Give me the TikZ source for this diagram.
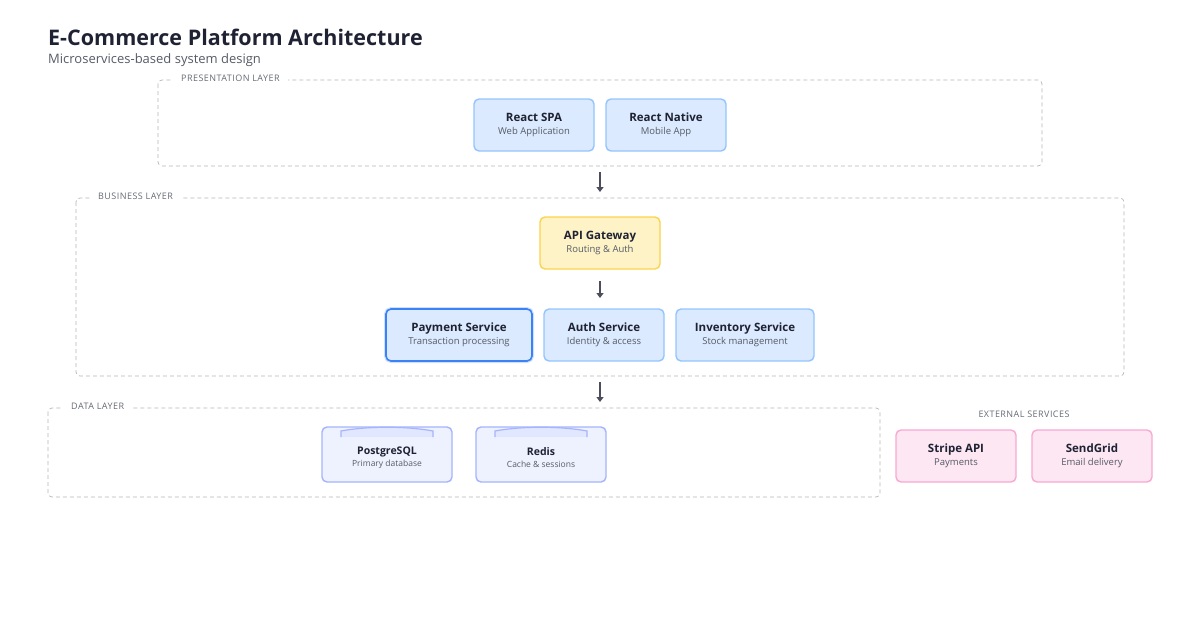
\documentclass[tikz,border=0pt]{standalone}
\usepackage{fontspec}
\setmainfont{Open Sans}
\usetikzlibrary{calc,arrows.meta}
\definecolor{ink}{HTML}{1F2233}
\definecolor{muted}{HTML}{555B66}
\definecolor{frame}{HTML}{B5B5B5}
\definecolor{blueF}{HTML}{DBEAFE}
\definecolor{blueD}{HTML}{93C5FD}
\definecolor{blueS}{HTML}{3B82F6}
\definecolor{yelF}{HTML}{FEF3C7}
\definecolor{yelD}{HTML}{FCD34D}
\definecolor{indF}{HTML}{EEF2FF}
\definecolor{indT}{HTML}{E0E7FF}
\definecolor{indD}{HTML}{A5B4FC}
\definecolor{pinkF}{HTML}{FCE7F3}
\definecolor{pinkD}{HTML}{F9A8D4}

\tikzset{
  layer/.style={draw=frame, dash pattern=on 4pt off 3pt, rounded corners=4pt, line width=0.7pt},
  tag/.style={fill=white, text=muted!90, font=\fontsize{9}{10}\selectfont\addfontfeature{LetterSpace=5}, inner xsep=8pt, inner ysep=1pt, anchor=west},
  box/.style={rounded corners=5pt, line width=1.4pt},
  svc/.style={box, fill=blueF, draw=blueD},
  gate/.style={box, fill=yelF, draw=yelD},
  store/.style={box, fill=indF, draw=indD},
  ext/.style={box, fill=pinkF, draw=pinkD},
  lbl/.style={text=ink, align=center, inner sep=0},
  flow/.style={draw=ink!80, line width=1.3pt, -{Triangle[length=5pt,width=7pt]}},
}
\newcommand{\svctext}[2]{{\fontsize{11.5}{14}\selectfont\bfseries #1}\\[1.5pt]{\fontsize{9.5}{12}\selectfont\color{muted}#2}}
\newcommand{\dbtext}[2]{{\fontsize{10.5}{13}\selectfont\bfseries #1}\\[0pt]{\fontsize{8.5}{11}\selectfont\color{muted}#2}}

\begin{document}
\begin{tikzpicture}[x=1pt,y=-1pt]
        \useasboundingbox (0,0) rectangle (1200,630);

        %TITLE
        \node[anchor=west, text=ink, inner sep=0] (title) at (48,37) {\fontsize{21.5}{26}\selectfont\bfseries E-Commerce Platform Architecture};
        \node[anchor=west, text=muted, inner sep=0] (subtitle) at (48,60) {\fontsize{13}{15}\selectfont Microservices-based system design};

        %LAYERS
        \draw[layer] (158,80) rectangle (1042,166);
        \node[tag] (ptag) at (173,78) {PRESENTATION LAYER};
        \draw[layer] (76,198) rectangle (1124,376);
        \node[tag] (btag) at (90,196) {BUSINESS LAYER};
        \draw[layer] (48,408) rectangle (880,497);
        \node[tag] (dtag) at (63,406) {DATA LAYER};
        \node[text=muted!90, font=\fontsize{9}{10}\selectfont\addfontfeature{LetterSpace=5}] (etag) at (1024,414) {EXTERNAL SERVICES};

        %PRESENTATION
        \draw[svc] (474,99) rectangle (594,151);
        \node[lbl] (spa) at (534,125) {\svctext{React SPA}{Web Application}};
        \draw[svc] (606,99) rectangle (726,151);
        \node[lbl] (native) at (666,125) {\svctext{React Native}{Mobile App}};

        %BUSINESS
        \draw[gate] (540,217) rectangle (660,269);
        \node[lbl] (gateway) at (600,243) {\svctext{API Gateway}{Routing \& Auth}};
        \draw[box, draw=blueS!25, line width=4pt] (386,309) rectangle (532,361);
        \draw[svc, draw=blueS, line width=1.6pt] (386,309) rectangle (532,361);
        \node[lbl] (payment) at (459,335) {\svctext{Payment Service}{Transaction processing}};
        \draw[svc] (544,309) rectangle (664,361);
        \node[lbl] (auth) at (604,335) {\svctext{Auth Service}{Identity \& access}};
        \draw[svc] (676,309) rectangle (814,361);
        \node[lbl] (inventory) at (745,335) {\svctext{Inventory Service}{Stock management}};

        %DATA
        \foreach \x/\nm/\nmtext/\sub in {322/pg/PostgreSQL/Primary database, 476/redis/Redis/Cache \& sessions}{
          \draw[store] (\x,427) rectangle ++(130,55);
          \draw[fill=indT, draw=indD, line width=1.2pt] (\x+19,437) -- (\x+19,431) .. controls (\x+45,426) and (\x+85,426) .. (\x+111,431) -- (\x+111,437);
          \node[lbl] (\nm) at (\x+65,458) {\dbtext{\nmtext}{\sub}};
        }

        %EXTERNAL
        \draw[ext] (896,430) rectangle (1016,482);
        \node[lbl] (stripe) at (956,456) {\svctext{Stripe API}{Payments}};
        \draw[ext] (1032,430) rectangle (1152,482);
        \node[lbl] (sendgrid) at (1092,456) {\svctext{SendGrid}{Email delivery}};

        %ARROWS
        \coordinate (a1) at (600,172); \coordinate (a2) at (600,192);
        \coordinate (b1) at (600,281); \coordinate (b2) at (600,298);
        \coordinate (c1) at (600,382); \coordinate (c2) at (600,402);
        \draw[flow] (a1) -- (a2);
        \draw[flow] (b1) -- (b2);
        \draw[flow] (c1) -- (c2);
\end{tikzpicture}
\end{document}
